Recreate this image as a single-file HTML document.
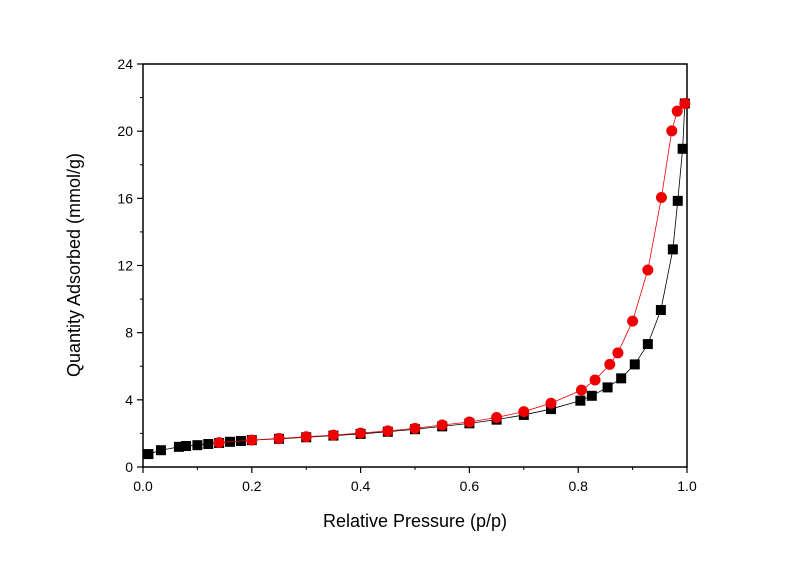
<!DOCTYPE html>
<html><head><meta charset="utf-8"><style>body{margin:0;background:#fff}svg{display:block;font-family:"Liberation Sans",Arial,sans-serif}</style></head>
<body>
<svg id="c" width="800" height="561"></svg>
<script>
const adsP=[0.01,0.033,0.066,0.079,0.1,0.12,0.14,0.16,0.18,0.2,0.25,0.3,0.35,0.4,0.45,0.5,0.55,0.6,0.65,0.7,0.75,0.804,0.825,0.854,0.879,0.904,0.928,0.952,0.974,0.983,0.992,0.996];
const adsV=[0.77,1.0,1.2,1.25,1.3,1.37,1.43,1.5,1.55,1.6,1.68,1.77,1.87,1.97,2.1,2.25,2.42,2.6,2.82,3.1,3.45,3.95,4.24,4.74,5.28,6.11,7.32,9.35,12.96,15.85,18.95,21.65];
const desP=[0.996,0.982,0.972,0.953,0.928,0.9,0.873,0.858,0.831,0.806,0.75,0.7,0.65,0.6,0.55,0.5,0.45,0.4,0.35,0.3,0.25,0.2,0.14];
const desV=[21.65,21.19,20.02,16.05,11.73,8.69,6.8,6.11,5.18,4.58,3.8,3.3,2.95,2.68,2.5,2.3,2.15,2.02,1.9,1.8,1.7,1.6,1.45];
const xTicks=[0,0.2,0.4,0.6,0.8,1.0];
const xTickLabels=["0.0","0.2","0.4","0.6","0.8","1.0"];
const yTicks=[0,4,8,12,16,20,24];
const NS="http://www.w3.org/2000/svg",svg=document.getElementById('c');
const X0=143,X1=687,Y0=467,Y1=64;
const sx=p=>X0+(X1-X0)*p, sy=v=>Y0-(Y0-Y1)*v/24;
function mk(t,a,parent){const e=document.createElementNS(NS,t);for(const k in a)e.setAttribute(k,a[k]);(parent||svg).appendChild(e);return e;}
const frame=mk('rect',{x:X0,y:Y1,width:X1-X0,height:Y0-Y1,fill:'none',stroke:'#000','stroke-width':1.5});


for(let i=0;i<xTicks.length;i++){const x=sx(xTicks[i]);
 const t=mk('line',{x1:x,x2:x,y1:Y0,y2:Y0+6,stroke:'#000','stroke-width':1.2});
 
 
 if(i<xTicks.length-1){const m=mk('line',{x1:sx(xTicks[i]+0.1),x2:sx(xTicks[i]+0.1),y1:Y0,y2:Y0+3,stroke:'#000'});
 
 }
 const l=mk('text',{x:x,y:Y0+24,'text-anchor':'middle','font-size':14});l.textContent=xTickLabels[i];
 
 }
for(let i=0;i<yTicks.length;i++){const y=sy(yTicks[i]);
 const t=mk('line',{x1:X0-6,x2:X0,y1:y,y2:y,stroke:'#000','stroke-width':1.2});
 
 
 if(i<yTicks.length-1){const m=mk('line',{x1:X0-3,x2:X0,y1:sy(yTicks[i]+2),y2:sy(yTicks[i]+2),stroke:'#000'});
 
 }
 const l=mk('text',{x:X0-10,y:y+5,'text-anchor':'end','font-size':14});l.textContent=yTicks[i];
 
 }
const xt=mk('text',{x:415,y:527,'text-anchor':'middle','font-size':18});xt.textContent='Relative Pressure (p/p)';


const yt=mk('text',{x:0,y:0,'text-anchor':'middle','font-size':18,transform:'translate(80,265) rotate(-90)'});yt.textContent='Quantity Adsorbed (mmol/g)';


function series(P,V,color,shape,name){
 const g=mk('g',{});
 
 
 mk('polyline',{points:P.map((p,i)=>sx(p)+','+sy(V[i])).join(' '),fill:'none',stroke:color,'stroke-width':0.8},g);
 P.forEach((p,i)=>{let e;
  if(shape==='sq')e=mk('rect',{x:sx(p)-5,y:sy(V[i])-5,width:10,height:10,fill:color},g);
  else e=mk('circle',{cx:sx(p),cy:sy(V[i]),r:5.5,fill:color},g);
  
  });
}
series(adsP,adsV,'#000','sq','adsorption-series');
series(desP,desV,'#ee0000','ci','desorption-series');
</script>
</body></html>
